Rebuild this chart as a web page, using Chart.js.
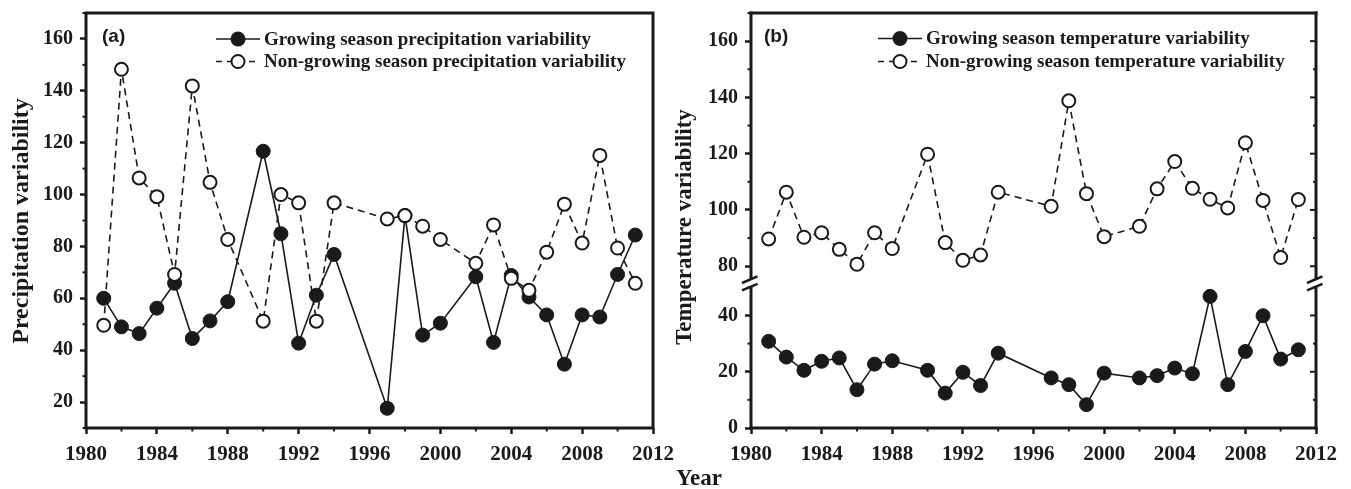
<!DOCTYPE html>
<html>
<head>
<meta charset="utf-8">
<script src="https://cdn.jsdelivr.net/npm/chart.js@4.4.1/dist/chart.umd.min.js"></script>
<style>
  html, body { margin: 0; padding: 0; background: #fff; }
  #wrap { position: relative; width: 1351px; height: 489px; overflow: hidden; }
  .panel { position: absolute; top: 0; height: 489px; }
  #left { left: 0; width: 680px; }
  #right { left: 665px; width: 686px; }
  #xtitle { position: absolute; left: 649px; width: 100px; top: 466px; text-align: center;
            font: bold 23px "Liberation Serif", serif; line-height: 23px; color: #1a1a1a; }
</style>
</head>
<body>
<div id="wrap">
  <div class="panel" id="left"><canvas id="chartA" width="680" height="489"></canvas></div>
  <div class="panel" id="right"><canvas id="chartB" width="686" height="489"></canvas></div>
  <div id="xtitle">Year</div>
</div>
<script>
// years with data (1989, 1995, 1996 and 2001 are missing)
const years = [1981, 1982, 1983, 1984, 1985, 1986, 1987, 1988,
               1990, 1991, 1992, 1993, 1994,
               1997, 1998, 1999, 2000,
               2002, 2003, 2004, 2005, 2006, 2007, 2008, 2009, 2010, 2011];

const precipGrowing = [60, 49, 46.4, 56.2, 65.8, 44.5, 51.3, 58.7,
                       116.7, 84.9, 42.7, 61.2, 76.9,
                       17.6, 91.9, 45.8, 50.4,
                       68.3, 43, 68.8, 60.5, 53.6, 34.6, 53.6, 52.8, 69.2, 84.4];
const precipNonGrowing = [49.6, 148.3, 106.4, 99.2, 69.2, 141.9, 104.7, 82.7,
                          51.2, 100, 96.8, 51.2, 96.8,
                          90.6, 91.9, 87.8, 82.7,
                          73.5, 88.3, 67.7, 63.1, 77.8, 96.3, 81.3, 115.1, 79.4, 65.8];

const tempGrowing = [30.8, 25.2, 20.5, 23.7, 24.9, 13.6, 22.7, 23.9,
                     20.5, 12.4, 19.8, 15.1, 26.6,
                     17.8, 15.4, 8.3, 19.5,
                     17.8, 18.6, 21.3, 19.3, 46.8, 15.4, 27.2, 39.9, 24.5, 27.8];
const tempNonGrowing = [89.7, 106.3, 90.3, 91.9, 86.0, 80.7, 91.9, 86.3,
                        119.8, 88.4, 82.1, 84.0, 106.3,
                        101.3, 138.8, 105.8, 90.5,
                        94.2, 107.5, 117.2, 107.7, 103.8, 100.7, 123.9, 103.4, 83.1, 103.7];

const yearTicks = [1980, 1984, 1988, 1992, 1996, 2000, 2004, 2008, 2012];
const precipTicks = [20, 40, 60, 80, 100, 120, 140, 160];
const tempLowTicks = [0, 20, 40];
const tempHighTicks = [80, 100, 120, 140, 160];

const ink = '#1a1a1a';
const serif = '"Liberation Serif", "Times New Roman", serif';

function pts(vals) {
  return years.map((x, i) => ({ x: x, y: vals[i] }));
}

function line(ctx, x1, y1, x2, y2) {
  ctx.beginPath();
  ctx.moveTo(x1, y1);
  ctx.lineTo(x2, y2);
  ctx.stroke();
}

// frame, minor ticks, axis break, legend, panel tag, y title
const decor = {
  id: 'decor',
  afterDraw(chart, args, o) {
    const ctx = chart.ctx;
    const a = chart.chartArea;
    ctx.save();
    ctx.strokeStyle = ink;
    ctx.fillStyle = ink;

    // minor / mirror ticks on y
    ctx.lineWidth = 2;
    o.yAxes.forEach(id => {
      const s = chart.scales[id];
      for (let v = Math.ceil(s.min / 10) * 10; v <= s.max; v += 10) {
        const py = s.getPixelForValue(v);
        const major = v % 20 === 0;
        if (!major) line(ctx, a.left - 3.5, py, a.left, py);
        if (o.rightTicks) line(ctx, a.right, py, a.right - (major ? 6 : 3), py);
      }
    });
    // minor ticks on x
    const sx = chart.scales.x;
    for (let v = sx.min + 2; v < sx.max; v += 4) {
      const px = sx.getPixelForValue(v);
      line(ctx, px, a.bottom, px, a.bottom + 3.5);
    }

    // frame
    ctx.lineWidth = 3;
    ctx.lineCap = 'square';
    if (!o.breakAxis) {
      ctx.strokeRect(a.left, a.top, a.right - a.left, a.bottom - a.top);
    } else {
      const yb = chart.scales[o.breakAxis].top;
      line(ctx, a.left, a.top, a.right, a.top);
      line(ctx, a.left, a.bottom, a.right, a.bottom);
      [a.left, a.right].forEach(x => {
        ctx.lineWidth = 3;
        ctx.lineCap = 'butt';
        line(ctx, x, a.top - 1.5, x, yb - 3.6);
        line(ctx, x, yb + 3.8, x, a.bottom + 1.5);
        ctx.lineWidth = 2.5;
        line(ctx, x - 9, yb + 0.2, x + 6.5, yb - 6.4);
        line(ctx, x - 9, yb + 7.6, x + 6.5, yb + 1);
      });
    }

    // legend
    ctx.lineCap = 'butt';
    o.legend.forEach(item => {
      const x0 = o.legendX, y = item.y;
      ctx.lineWidth = 1.6;
      ctx.setLineDash(item.dashed ? [6, 5] : []);
      line(ctx, x0, y, x0 + 44, y);
      ctx.setLineDash([]);
      ctx.beginPath();
      ctx.arc(x0 + 22, y, item.dashed ? 6.5 : 7.5, 0, Math.PI * 2);
      if (item.dashed) {
        ctx.fillStyle = '#fff';
        ctx.fill();
        ctx.lineWidth = 2;
        ctx.stroke();
      } else {
        ctx.fillStyle = ink;
        ctx.fill();
      }
      ctx.fillStyle = ink;
      ctx.font = 'bold 19px ' + serif;
      ctx.textAlign = 'left';
      ctx.textBaseline = 'middle';
      ctx.fillText(item.text, x0 + 48, y + 1);
    });

    // panel tag
    ctx.font = 'bold 19px "Liberation Sans", Arial, sans-serif';
    ctx.textAlign = 'left';
    ctx.textBaseline = 'middle';
    ctx.fillText(o.tag, o.tagX, o.tagY);

    // y title
    ctx.translate(o.titleX, o.titleY);
    ctx.rotate(-Math.PI / 2);
    ctx.font = 'bold ' + o.titleSize + 'px ' + serif;
    ctx.textAlign = 'center';
    ctx.textBaseline = 'middle';
    ctx.fillText(o.title, 0, 0);
    ctx.restore();
  }
};

function xScale() {
  return {
    type: 'linear', min: 1980, max: 2012,
    afterBuildTicks: s => { s.ticks = yearTicks.map(v => ({ value: v })); },
    afterFit: s => { s.height = 61; s.paddingLeft = 0; s.paddingRight = 0; },
    border: { display: false },
    grid: { display: true, drawOnChartArea: false, drawTicks: true, tickLength: 6, tickWidth: 2.5, tickColor: ink },
    ticks: { font: { family: serif, weight: 'bold', size: 21 }, color: ink, padding: 8, maxRotation: 0,
             callback: v => String(v) }
  };
}

function yScale(min, max, ticks, extra) {
  return Object.assign({
    type: 'linear', position: 'left', min: min, max: max,
    afterBuildTicks: s => { s.ticks = ticks.map(v => ({ value: v })); },
    // labels never sit on the ends, so no extra room above/below
    afterFit: s => { s.width = 86; s.paddingTop = 0; s.paddingBottom = 0; },
    border: { display: false },
    grid: { display: true, drawOnChartArea: false, drawTicks: true, tickLength: 6, tickWidth: 2.5, tickColor: ink },
    ticks: { font: { family: serif, weight: 'bold', size: 20 }, color: ink, padding: 7 }
  }, extra || {});
}

function growingSet(vals, axis) {
  return {
    data: pts(vals), yAxisID: axis, order: 1,
    borderColor: ink, backgroundColor: ink, borderWidth: 1.6,
    pointRadius: 7, pointBorderWidth: 1, pointBackgroundColor: ink, pointBorderColor: ink
  };
}

function nonGrowingSet(vals, axis) {
  return {
    data: pts(vals), yAxisID: axis, order: 0,
    borderColor: ink, backgroundColor: '#fff', borderWidth: 1.6, borderDash: [7, 5],
    pointRadius: 6.5, pointBorderWidth: 2, pointBackgroundColor: '#fff', pointBorderColor: ink
  };
}

new Chart(document.getElementById('chartA'), {
  type: 'line',
  data: { datasets: [growingSet(precipGrowing, 'y'), nonGrowingSet(precipNonGrowing, 'y')] },
  options: {
    responsive: false, animation: false,
    layout: { padding: { top: 13, right: 27, bottom: 0, left: 0 } },
    scales: { x: xScale(), y: yScale(10, 170, precipTicks) },
    plugins: {
      legend: { display: false }, tooltip: { enabled: false },
      decor: {
        yAxes: ['y'], rightTicks: false, breakAxis: null,
        legendX: 216,
        legend: [
          { y: 39, dashed: false, text: 'Growing season precipitation variability' },
          { y: 61.5, dashed: true, text: 'Non-growing season precipitation variability' }
        ],
        tag: '(a)', tagX: 102, tagY: 37,
        title: 'Precipitation variability', titleX: 22, titleY: 221, titleSize: 24
      }
    }
  },
  plugins: [decor]
});

// broken y axis: two stacked scales, lower one defined first (sits at the bottom)
new Chart(document.getElementById('chartB'), {
  type: 'line',
  data: { datasets: [growingSet(tempGrowing, 'yLow'), nonGrowingSet(tempNonGrowing, 'yHigh')] },
  options: {
    responsive: false, animation: false,
    layout: { padding: { top: 13, right: 35, bottom: 0, left: 0 } },
    scales: {
      x: xScale(),
      yLow: yScale(0, 51.6, tempLowTicks, { stack: 'temp', stackWeight: 51.6 }),
      yHigh: yScale(74.1, 170, tempHighTicks, { stack: 'temp', stackWeight: 95.9 })
    },
    plugins: {
      legend: { display: false }, tooltip: { enabled: false },
      decor: {
        yAxes: ['yLow', 'yHigh'], rightTicks: true, breakAxis: 'yLow',
        legendX: 213,
        legend: [
          { y: 38.5, dashed: false, text: 'Growing season temperature variability' },
          { y: 61.5, dashed: true, text: 'Non-growing season temperature variability' }
        ],
        tag: '(b)', tagX: 99, tagY: 37,
        title: 'Temperature variability', titleX: 20, titleY: 227, titleSize: 23
      }
    }
  },
  plugins: [decor]
});
</script>
</body>
</html>
